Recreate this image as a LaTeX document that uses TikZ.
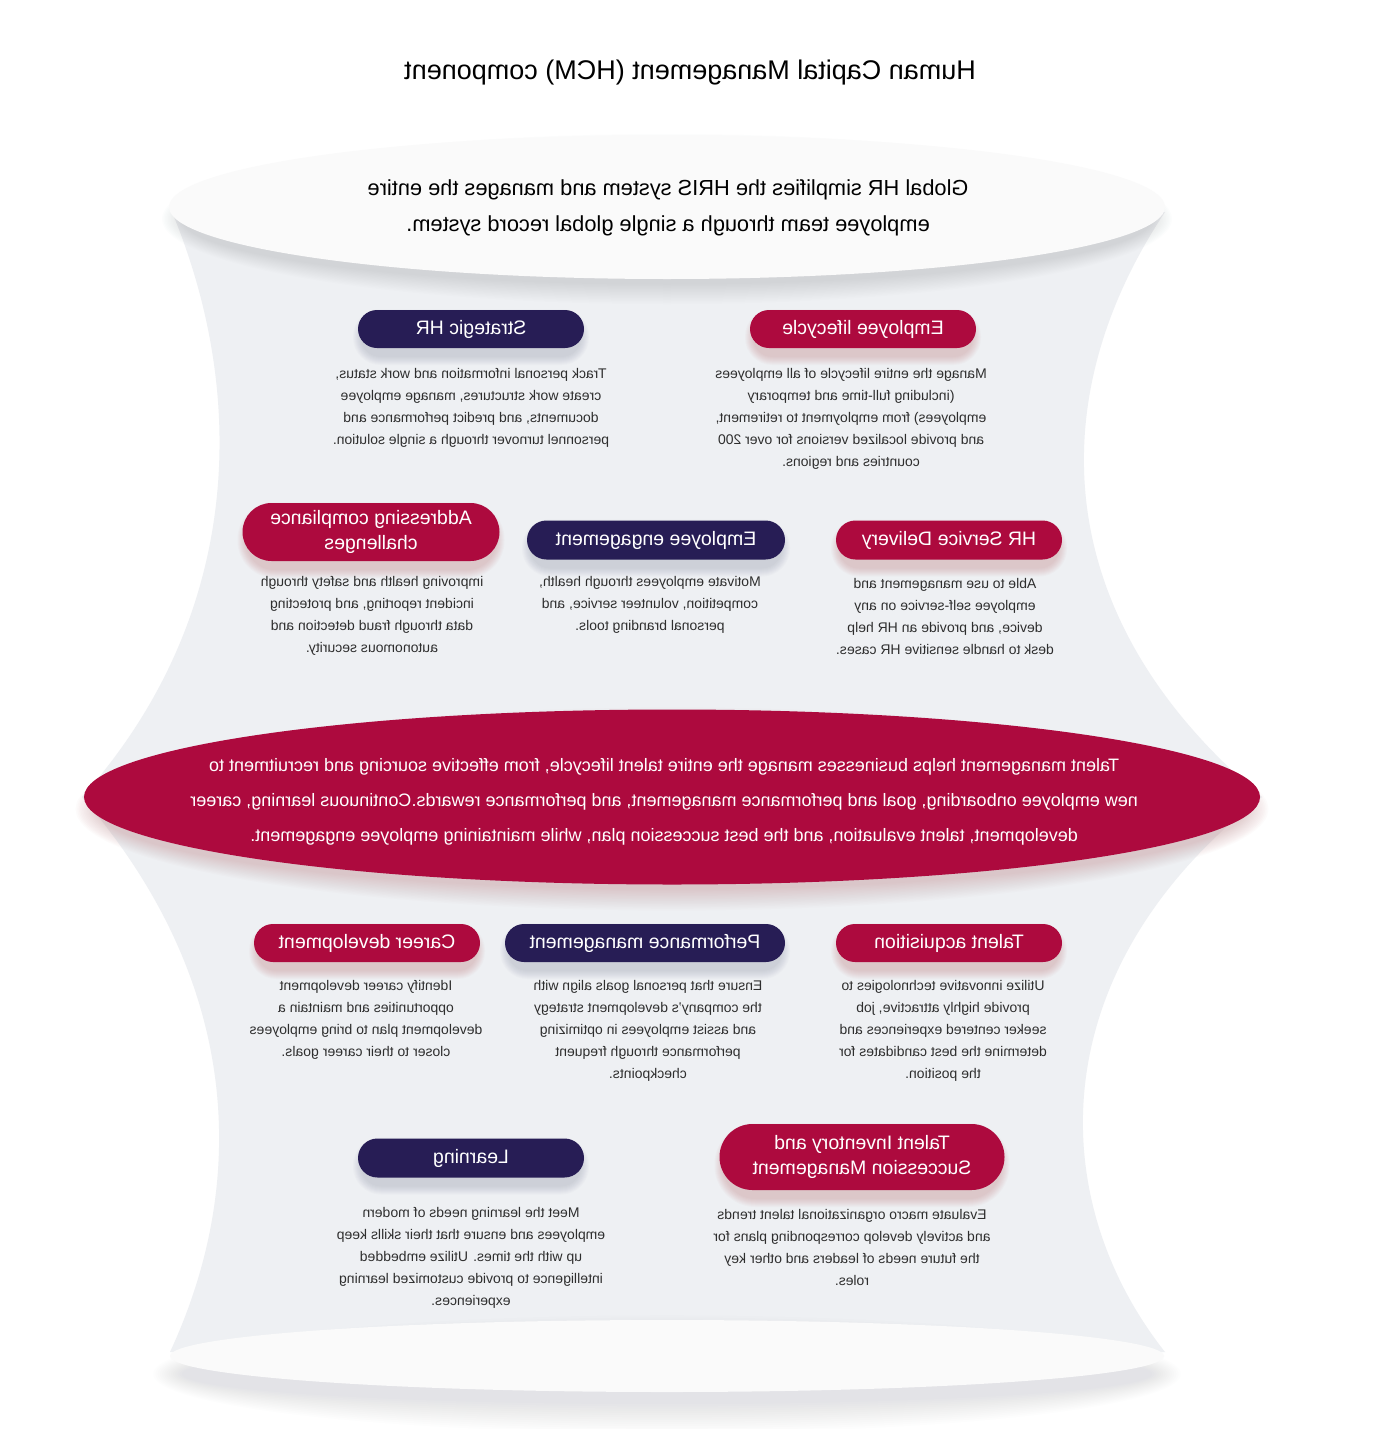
\documentclass[tikz,border=0pt]{standalone}
\usepackage{fontspec}
\setmainfont{Liberation Sans}
\usetikzlibrary{shapes.geometric,shapes.misc}
\definecolor{crim}{HTML}{AD0A3E}
\definecolor{navy}{HTML}{271D55}
\definecolor{bodyfill}{HTML}{EEF0F3}
\definecolor{capfill}{HTML}{FAFAFA}
\definecolor{txt}{HTML}{2E2E2E}
\definecolor{shgray}{HTML}{7A8096}
\definecolor{shred}{HTML}{B0585A}
\newcommand\pillshadow[5]{%
  \foreach \rr in {1,...,9}{%
    \pgfmathsetmacro\rc{(#4/2+\rr)*0.98}%
    \fill[#5, opacity=0.03, rounded corners=\rc pt] ({#1-#3/2-\rr+4},{#2-#4/2-\rr+8}) rectangle ({#1+#3/2+\rr-4},{#2+#4/2+\rr+8});
  }}
% cx cy rx ry colour dy step opacity
\newcommand\ellshadow[8]{%
  \foreach \rr in {1,...,14}{%
    \fill[#5, opacity=#8] (#1,{#2+#6}) ellipse [x radius={#3-14+\rr*#7}, y radius={#4-8+\rr*#7}];
  }}
\begin{document}
\begin{tikzpicture}[x=1pt,y=-1pt,
  mir/.style={xscale=-1},
  pill/.style={mir, rounded rectangle, inner sep=0pt, text=white, font=\fontsize{19.5}{25}\selectfont, align=center},
  desc/.style={mir, align=center, text=txt, font=\fontsize{14}{22}\selectfont, inner sep=0pt},
  capell/.style={ellipse, fill=capfill, inner sep=0pt}]
\useasboundingbox (0,0) rectangle (1380,1429);
\fill[white] (0,0) rectangle (1380,1429);

% title
\node[mir, font=\fontsize{27}{32}\selectfont] (title) at (690,73) {Human Capital Management (HCM) component};

% body of the vase
\fill[bodyfill] (172,212) .. controls (250,400) and (240,620) .. (82,797)
  .. controls (240,980) and (250,1180) .. (170,1352) -- (1165,1352)
  .. controls (1045,1200) and (1040,970) .. (1262,797)
  .. controls (1050,620) and (1040,400) .. (1165,212) -- cycle;

% top cap
\ellshadow{667}{207}{498}{72}{shgray}{12}{1.5}{0.016}
\node[capell, minimum width=996pt, minimum height=144pt] (topcap) at (667,207) {};
\node[mir, align=center, font=\fontsize{21.8}{36}\selectfont] (glob) at (668,208)
  {Global HR simplifies the HRIS system and manages the entire\\employee team through a single global record system.};

% bottom cap
\ellshadow{667}{1356}{497}{36}{shgray}{18}{2.2}{0.011}
\node[capell, minimum width=994pt, minimum height=72pt] (basecap) at (667,1356) {};

% row 1
\pillshadow{471}{329}{226}{38}{shgray}
\node[pill, fill=navy, minimum width=226pt, minimum height=38pt] (strat) at (471,329) {Strategic HR};
\pillshadow{863}{329}{226}{38}{shred}
\node[pill, fill=crim, minimum width=226pt, minimum height=38pt] (life) at (863,329) {Employee lifecycle};
\node[desc] (stratd) at (471,407.5) {Track personal information and work status,\\create work structures, manage employee\\documents, and predict performance and\\personnel turnover through a single solution.};
\node[desc] (lifed) at (851,418.5) {Manage the entire lifecycle of all employees\\(including full-time and temporary\\employees) from employment to retirement,\\and provide localized versions for over 200\\countries and regions.};

% row 2
\pillshadow{371}{532}{257}{58}{shred}
\node[pill, fill=crim, minimum width=257pt, minimum height=58pt] (comp) at (371,532) {Addressing compliance\\challenges};
\pillshadow{656}{540}{258}{39}{shgray}
\node[pill, fill=navy, minimum width=258pt, minimum height=39pt] (eng) at (656,540) {Employee engagement};
\pillshadow{949}{540}{226}{39}{shred}
\node[pill, fill=crim, minimum width=226pt, minimum height=39pt] (hrs) at (949,540) {HR Service Delivery};
\node[desc] (compd) at (372,616) {improving health and safety through\\incident reporting, and protecting\\data through fraud detection and\\autonomous security.};
\node[desc] (engd) at (650,605) {Motivate employees through health,\\competition, volunteer service, and\\personal branding tools.};
\node[desc] (hrsd) at (945,616) {Able to use management and\\employee self-service on any\\device, and provide an HR help\\desk to handle sensitive HR cases.};

% talent management ellipse
\ellshadow{672}{797}{588}{87}{shred}{12}{1.6}{0.02}
\node[ellipse, fill=crim, minimum width=1176pt, minimum height=175pt, inner sep=0pt] (tm) at (672,797) {};
\node[mir, align=center, text=white, font=\fontsize{18}{35}\selectfont] (tmtext) at (664,802)
  {Talent management helps businesses manage the entire talent lifecycle, from effective sourcing and recruitment to\\new employee onboarding, goal and performance management, and performance rewards.Continuous learning, career\\development, talent evaluation, and the best succession plan, while maintaining employee engagement.};

% row 3
\pillshadow{367}{943}{226}{38}{shred}
\node[pill, fill=crim, minimum width=226pt, minimum height=38pt] (career) at (367,943) {Career development};
\pillshadow{645}{943}{280}{38}{shgray}
\node[pill, fill=navy, minimum width=280pt, minimum height=38pt] (perf) at (645,943) {Performance management};
\pillshadow{949}{943}{226}{38}{shred}
\node[pill, fill=crim, minimum width=226pt, minimum height=38pt] (acq) at (949,943) {Talent acquisition};
\node[desc] (careerd) at (366,1020) {Identify career development\\opportunities and maintain a\\development plan to bring employees\\closer to their career goals.};
\node[desc] (perfd) at (648,1031) {Ensure that personal goals align with\\the company's development strategy\\and assist employees in optimizing\\performance through frequent\\checkpoints.};
\node[desc] (acqd) at (943,1031) {Utilize innovative technologies to\\provide highly attractive, job\\seeker centered experiences and\\determine the best candidates for\\the position.};

% row 4
\pillshadow{471}{1158}{226}{39}{shgray}
\node[pill, fill=navy, minimum width=226pt, minimum height=39pt] (learn) at (471,1158) {Learning};
\pillshadow{862}{1157}{285}{66}{shred}
\node[pill, fill=crim, minimum width=285pt, minimum height=66pt] (succ) at (862,1157) {Talent Inventory and\\Succession Management};
\node[desc] (learnd) at (471,1258) {Meet the learning needs of modern\\employees and ensure that their skills keep\\up with the times. Utilize embedded\\intelligence to provide customized learning\\experiences.};
\node[desc] (succd) at (852,1247) {Evaluate macro organizational talent trends\\and actively develop corresponding plans for\\the future needs of leaders and other key\\roles.};
\end{tikzpicture}
\end{document}
